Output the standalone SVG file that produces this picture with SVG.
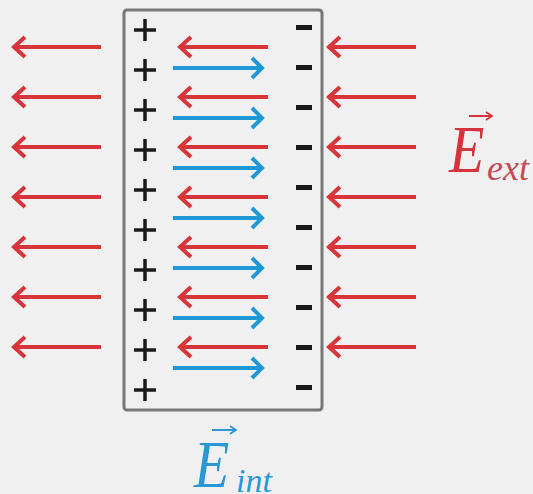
<svg xmlns="http://www.w3.org/2000/svg" width="533" height="494" viewBox="0 0 533 494">
  <style>
    .red { stroke: #d8353a; stroke-width: 4; fill: none; }
    .blue { stroke: #1e98d6; stroke-width: 4; fill: none; }
    .pm { stroke: #1a1a1a; stroke-width: 3.5; fill: none; }
    .lbl { font-family: "Liberation Serif", "Times New Roman", serif; font-style: italic; }
  </style>
  <defs>
    <marker id="hr" markerUnits="userSpaceOnUse" viewBox="-14 -12 16 24" markerWidth="16" markerHeight="24" refX="0" refY="0" orient="auto">
      <path d="M-12,-10 L-1,0 L-12,10" fill="none" stroke="#d8353a" stroke-width="4"/>
    </marker>
    <marker id="hb" markerUnits="userSpaceOnUse" viewBox="-14 -12 16 24" markerWidth="16" markerHeight="24" refX="0" refY="0" orient="auto">
      <path d="M-11,-10 L-1,0 L-11,10" fill="none" stroke="#1e98d6" stroke-width="4"/>
    </marker>
    <marker id="hs" markerUnits="userSpaceOnUse" viewBox="-8 -6 10 12" markerWidth="10" markerHeight="12" refX="0" refY="0" orient="auto">
      <path d="M-6,-4 L0,0 L-6,4" fill="none" stroke="context-stroke" stroke-width="1.8"/>
    </marker>
  </defs>
  <rect width="533" height="494" fill="#f0f0f0"/>

  <g id="slab">
    <rect x="124" y="10" width="198" height="400" rx="3" fill="#f0f0f0" stroke="#777" stroke-width="3"/>
    <g id="plus-charges" class="pm">
      <path d="M134,30 h22 M145,19 v22"/>
      <path d="M134,70 h22 M145,59 v22"/>
      <path d="M134,110 h22 M145,99 v22"/>
      <path d="M134,150 h22 M145,139 v22"/>
      <path d="M134,190 h22 M145,179 v22"/>
      <path d="M134,230 h22 M145,219 v22"/>
      <path d="M134,270 h22 M145,259 v22"/>
      <path d="M134,310 h22 M145,299 v22"/>
      <path d="M134,350 h22 M145,339 v22"/>
      <path d="M134,390 h22 M145,379 v22"/>
    </g>
    <g id="minus-charges" fill="#1a1a1a">
      <rect x="296" y="25" width="16" height="5"/>
      <rect x="296" y="65" width="16" height="5"/>
      <rect x="296" y="105" width="16" height="5"/>
      <rect x="296" y="145" width="16" height="5"/>
      <rect x="296" y="185" width="16" height="5"/>
      <rect x="296" y="225" width="16" height="5"/>
      <rect x="296" y="265" width="16" height="5"/>
      <rect x="296" y="305" width="16" height="5"/>
      <rect x="296" y="345" width="16" height="5"/>
      <rect x="296" y="385" width="16" height="5"/>
    </g>
  </g>

  <g id="connectors">
    <g id="ext-left" class="red" marker-end="url(#hr)">
      <line x1="101" y1="47" x2="13" y2="47"/>
      <line x1="101" y1="97" x2="13" y2="97"/>
      <line x1="101" y1="147" x2="13" y2="147"/>
      <line x1="101" y1="197" x2="13" y2="197"/>
      <line x1="101" y1="247" x2="13" y2="247"/>
      <line x1="101" y1="297" x2="13" y2="297"/>
      <line x1="101" y1="347" x2="13" y2="347"/>
    </g>
    <g id="ext-inside" class="red" marker-end="url(#hr)">
      <line x1="268" y1="47" x2="179" y2="47"/>
      <line x1="268" y1="97" x2="179" y2="97"/>
      <line x1="268" y1="147" x2="179" y2="147"/>
      <line x1="268" y1="197" x2="179" y2="197"/>
      <line x1="268" y1="247" x2="179" y2="247"/>
      <line x1="268" y1="297" x2="179" y2="297"/>
      <line x1="268" y1="347" x2="179" y2="347"/>
    </g>
    <g id="ext-right" class="red" marker-end="url(#hr)">
      <line x1="416" y1="47" x2="328" y2="47"/>
      <line x1="416" y1="97" x2="328" y2="97"/>
      <line x1="416" y1="147" x2="328" y2="147"/>
      <line x1="416" y1="197" x2="328" y2="197"/>
      <line x1="416" y1="247" x2="328" y2="247"/>
      <line x1="416" y1="297" x2="328" y2="297"/>
      <line x1="416" y1="347" x2="328" y2="347"/>
    </g>
    <g id="int" class="blue" marker-end="url(#hb)">
      <line x1="173" y1="68" x2="263" y2="68"/>
      <line x1="173" y1="118" x2="263" y2="118"/>
      <line x1="173" y1="168" x2="263" y2="168"/>
      <line x1="173" y1="218" x2="263" y2="218"/>
      <line x1="173" y1="268" x2="263" y2="268"/>
      <line x1="173" y1="318" x2="263" y2="318"/>
      <line x1="173" y1="368" x2="263" y2="368"/>
    </g>
  </g>

  <g id="label-ext">
    <text class="lbl" x="449" y="172" font-size="68" fill="#d8323c" transform="translate(449 0) scale(0.85 1) translate(-449 0)">E</text>
    <text class="lbl" x="487" y="180" font-size="36" fill="#c24a55">ext</text>
    <line x1="469" y1="116" x2="492" y2="116" stroke="#d8323c" stroke-width="2" marker-end="url(#hs)"/>
  </g>
  <g id="label-int">
    <text class="lbl" x="194" y="487" font-size="68" fill="#2a98d4" transform="translate(194 0) scale(0.85 1) translate(-194 0)">E</text>
    <text class="lbl" x="236" y="492" font-size="34" fill="#2a98d4">int</text>
    <line x1="212" y1="430" x2="236" y2="430" stroke="#2a98d4" stroke-width="2" marker-end="url(#hs)"/>
  </g>
</svg>
